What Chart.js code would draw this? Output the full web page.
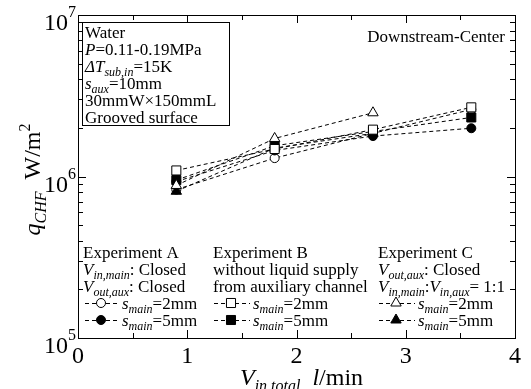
<!DOCTYPE html>
<html>
<head>
<meta charset="utf-8">
<script src="https://cdn.jsdelivr.net/npm/chart.js@4/dist/chart.umd.min.js"></script>
<style>
  html, body { margin: 0; padding: 0; background: #fff; }
</style>
</head>
<body>
<canvas id="chfChart" width="531" height="389"></canvas>
<script>
// total inlet flow rate, l/min
const flowRates = [0.9, 1.8, 2.7, 3.6];

// CHF values, W/m2
const expA2mm = [0.83e6, 1.30e6, 1.85e6, 2.60e6];
const expA5mm = [0.93e6, 1.45e6, 1.78e6, 1.99e6];
const expB2mm = [1.09e6, 1.48e6, 1.95e6, 2.68e6];
const expB5mm = [0.95e6, 1.55e6, 1.90e6, 2.32e6];
const expC2mm = [0.88e6, 1.72e6, 2.48e6];
const expC5mm = [0.81e6, 1.50e6, 1.85e6];

// axis ticks
const xTickValues = [0, 1, 2, 3, 4];
const xMinorValues = [0.5, 1.5, 2.5, 3.5];
const yDecades = [5, 6, 7];

const SERIF = '"Liberation Serif", "Times New Roman", serif';

function toPoints(values) {
    return values.map((v, i) => ({ x: flowRates[i], y: v }));
}

function series(values, style, filled, radius) {
    return {
        data: toPoints(values),
        showLine: true,
        borderColor: '#000',
        borderWidth: 1,
        borderDash: [4, 3],
        pointStyle: style,
        pointRadius: radius,
        pointBorderWidth: 1,
        pointBorderColor: '#000',
        pointBackgroundColor: filled ? '#000' : '#fff'
    };
}

// rich text: [text, kind] with kind n=normal, i=italic, b=subscript, p=superscript
function fontFor(kind, size) {
    const small = kind === 'b' || kind === 'p';
    const s = small ? Math.round(size * 0.68) : size;
    const italic = kind === 'i' || kind === 'b';
    return (italic ? 'italic ' : '') + s + 'px ' + SERIF;
}

function richWidth(ctx, parts, size) {
    let w = 0;
    parts.forEach(([t, k]) => { ctx.font = fontFor(k, size); w += ctx.measureText(t).width; });
    return w;
}

function drawRich(ctx, parts, x, y, size, align) {
    const w = richWidth(ctx, parts, size);
    let cx = align === 'center' ? x - w / 2 : align === 'right' ? x - w : x;
    ctx.textAlign = 'left';
    ctx.textBaseline = 'alphabetic';
    parts.forEach(([t, k]) => {
        ctx.font = fontFor(k, size);
        const dy = k === 'b' ? size * 0.25 : k === 'p' ? -size * 0.42 : 0;
        ctx.fillText(t, cx, y + dy);
        cx += ctx.measureText(t).width;
    });
}

const infoLines = [
    [['Water', 'n']],
    [['P', 'i'], ['=0.11-0.19MPa', 'n']],
    [['\u0394T', 'i'], ['sub,in', 'b'], ['=15K', 'n']],
    [['s', 'i'], ['aux', 'b'], ['=10mm', 'n']],
    [['30mmW\u00d7150mmL', 'n']],
    [['Grooved surface', 'n']]
];

const legendColumns = [
    {
        x: 83, markX: 101, lineX: [85, 120], textX: 122,
        head: [
            [['Experiment A', 'n']],
            [['V', 'i'], ['in,main', 'b'], [': Closed', 'n']],
            [['V', 'i'], ['out,aux', 'b'], [': Closed', 'n']]
        ],
        marks: [['circle', false, 4.5], ['circle', true, 4.5]]
    },
    {
        x: 213, markX: 231, lineX: [214, 250], textX: 253,
        head: [
            [['Experiment B', 'n']],
            [['without liquid supply', 'n']],
            [['from auxiliary channel', 'n']]
        ],
        marks: [['rect', false, 6.4], ['rect', true, 6.4]]
    },
    {
        x: 378, markX: 396, lineX: [379, 415], textX: 418,
        head: [
            [['Experiment C', 'n']],
            [['V', 'i'], ['out,aux', 'b'], [': Closed', 'n']],
            [['V', 'i'], ['in,main', 'b'], [':', 'n'], ['V', 'i'], ['in,aux', 'b'], ['= 1:1', 'n']]
        ],
        marks: [['triangle', false, 6], ['triangle', true, 6]]
    }
];

const mmLabels = ['=2mm', '=5mm'];

const decorations = {
    id: 'decorations',
    afterDraw(chart) {
        const ctx = chart.ctx;
        const area = chart.chartArea;
        const xs = chart.scales.x;
        const ys = chart.scales.y;
        ctx.save();
        ctx.fillStyle = '#000';
        ctx.strokeStyle = '#000';
        ctx.lineWidth = 1;
        ctx.setLineDash([]);

        // frame
        ctx.strokeRect(Math.round(area.left) + 0.5, Math.round(area.top) + 0.5,
            Math.round(area.right - area.left), Math.round(area.bottom - area.top));

        // inward ticks
        const tick = (x1, y1, x2, y2) => {
            ctx.beginPath(); ctx.moveTo(x1, y1); ctx.lineTo(x2, y2); ctx.stroke();
        };
        xTickValues.forEach(v => {
            const px = Math.round(xs.getPixelForValue(v)) + 0.5;
            tick(px, area.bottom, px, area.bottom - 8);
            tick(px, area.top, px, area.top + 8);
        });
        xMinorValues.forEach(v => {
            const px = Math.round(xs.getPixelForValue(v)) + 0.5;
            tick(px, area.bottom, px, area.bottom - 5);
            tick(px, area.top, px, area.top + 5);
        });
        yDecades.forEach(d => {
            const py = Math.round(ys.getPixelForValue(Math.pow(10, d))) + 0.5;
            tick(area.left, py, area.left + 8, py);
            tick(area.right, py, area.right - 8, py);
            if (d === yDecades[yDecades.length - 1]) return;
            for (let m = 2; m <= 9; m++) {
                const pm = Math.round(ys.getPixelForValue(m * Math.pow(10, d))) + 0.5;
                tick(area.left, pm, area.left + 5, pm);
                tick(area.right, pm, area.right - 5, pm);
            }
        });

        // tick labels
        ctx.textBaseline = 'alphabetic';
        xTickValues.forEach(v => {
            ctx.font = '24px ' + SERIF;
            ctx.textAlign = 'center';
            ctx.fillText(String(v), xs.getPixelForValue(v), area.bottom + 25);
        });
        yDecades.forEach(d => {
            const py = ys.getPixelForValue(Math.pow(10, d));
            ctx.font = '24px ' + SERIF;
            ctx.textAlign = 'right';
            ctx.fillText('10', 68, py + 15);
            ctx.font = '16px ' + SERIF;
            ctx.textAlign = 'left';
            ctx.fillText(String(d), 68, py + 2);
        });

        // axis titles
        drawRich(ctx, [['V', 'i'], ['in,total', 'b'], ['  ', 'n'], ['l', 'i'], ['/min', 'n']],
            240, 385, 24, 'left');
        ctx.save();
        ctx.translate(40, (area.top + area.bottom) / 2 + 3);
        ctx.rotate(-Math.PI / 2);
        drawRich(ctx, [['q', 'i'], ['CHF', 'b'], ['  W/m', 'n'], ['2', 'p']], 0, 0, 24, 'center');
        ctx.restore();

        // info box
        ctx.strokeRect(82.5, 22.5, 147, 103);
        infoLines.forEach((parts, i) => drawRich(ctx, parts, 85, 38 + 17 * i, 17, 'left'));

        drawRich(ctx, [['Downstream-Center', 'n']], 505, 42, 17, 'right');

        // legend
        legendColumns.forEach(col => {
            col.head.forEach((parts, i) => drawRich(ctx, parts, col.x, 258 + 17 * i, 17, 'left'));
            col.marks.forEach(([style, filled, r], i) => {
                const base = 309 + 17 * i;
                const my = base - 6;
                ctx.save();
                ctx.setLineDash([4, 3]);
                tick(col.lineX[0], my + 0.5, col.lineX[1], my + 0.5);
                ctx.restore();
                ctx.fillStyle = filled ? '#000' : '#fff';
                ctx.strokeStyle = '#000';
                Chart.helpers.drawPoint(ctx, { pointStyle: style, radius: r, rotation: 0, borderWidth: 1 }, col.markX, my);
                ctx.fillStyle = '#000';
                drawRich(ctx, [['s', 'i'], ['main', 'b'], [mmLabels[i], 'n']], col.textX, base, 17, 'left');
            });
        });
        ctx.restore();
    }
};

new Chart(document.getElementById('chfChart').getContext('2d'), {
    type: 'scatter',
    data: {
        datasets: [
            series(expB2mm, 'rect', false, 6.4),
            series(expC2mm, 'triangle', false, 6),
            series(expB5mm, 'rect', true, 6.4),
            series(expC5mm, 'triangle', true, 6),
            series(expA5mm, 'circle', true, 4.5),
            series(expA2mm, 'circle', false, 4.5)
        ]
    },
    options: {
        responsive: false,
        animation: false,
        devicePixelRatio: 1,
        layout: { padding: { left: 78, right: 16, top: 15, bottom: 51 } },
        plugins: { legend: { display: false }, tooltip: { enabled: false } },
        scales: {
            x: { type: 'linear', min: 0, max: 4, display: false },
            y: { type: 'logarithmic', min: 1e5, max: 1e7, display: false }
        }
    },
    plugins: [decorations]
});
</script>
</body>
</html>
